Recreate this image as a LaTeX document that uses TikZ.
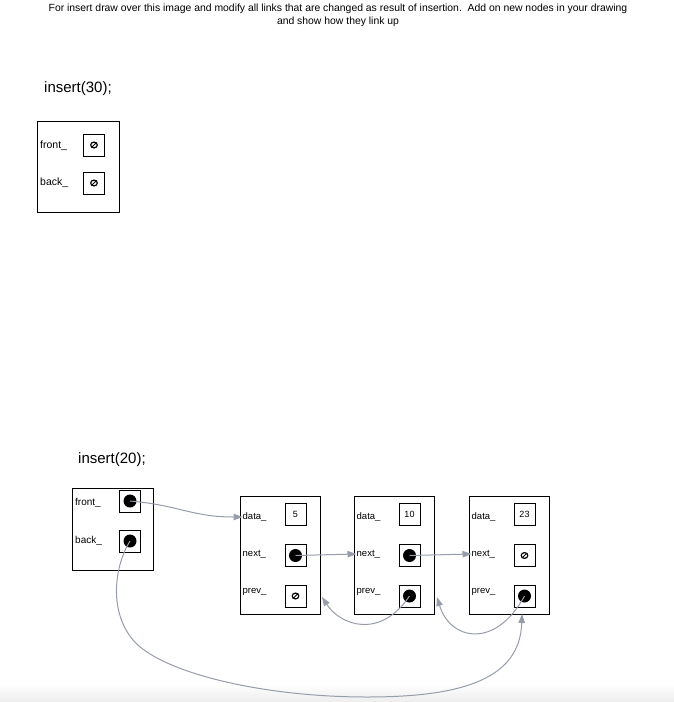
\documentclass[tikz,border=0pt]{standalone}
\usepackage{fontspec}
\setmainfont{Liberation Sans}
\usetikzlibrary{arrows.meta}
\definecolor{linkgray}{RGB}{150,156,170}
\tikzset{
	holder/.style={shape=rectangle, draw, line width=0.8pt, anchor=north west, inner sep=0pt},
	cell/.style={shape=rectangle, draw, line width=0.8pt, minimum width=21pt, minimum height=22pt, inner sep=0pt, font=\fontsize{9}{10}\selectfont},
	field/.style={anchor=west, inner sep=0pt, font=\fontsize{9.5}{11}\selectfont},
	link/.style={draw=linkgray, line width=1pt, -{Triangle[length=9pt, width=6.5pt]}},
	nullptr/.pic={\draw[line width=1.2pt] (0,0) ellipse (3.3pt and 2.9pt); \draw[line width=0.9pt] (-2.7pt,-2.5pt) -- (2.7pt,2.5pt);}
}
\begin{document}
\begin{tikzpicture}[x=1pt, y=-1pt]
	\useasboundingbox (0,0) rectangle (674,702);
	\shade[top color=white, bottom color=black!7] (0,684) rectangle (674,702);
	% Title and headings:
	\node[align=center, font=\fontsize{10.4}{13}\selectfont] (title) at (338,15.5){For insert draw over this image and modify all links that are changed as result of insertion.\ \ Add on new nodes in your drawing\\and show how they link up};
	\node[anchor=west, inner sep=0pt, font=\fontsize{15}{18}\selectfont] (ins30) at (44,89){insert(30);};
	\node[anchor=west, inner sep=0pt, font=\fontsize{15}{18}\selectfont] (ins20) at (78,460){insert(20);};
	% Empty list:
	\node[holder, minimum width=82pt, minimum height=91pt] (lstA) at (37,121){};
	\node[field, font=\fontsize{10.5}{12}\selectfont] (lstAfl) at (40,146){front\_};
	\node[field, font=\fontsize{10.5}{12}\selectfont] (lstAbl) at (40,183){back\_};
	\node[cell] (lstAfront) at (94,145){};
	\node[cell] (lstAback) at (94,183){};
	\pic at (lstAfront) {nullptr};
	\pic at (lstAback) {nullptr};
	% List with three nodes:
	\node[holder, minimum width=81pt, minimum height=82pt] (lstB) at (72,488){};
	\node[field, font=\fontsize{10}{12}\selectfont] (lstBfl) at (75,503){front\_};
	\node[field, font=\fontsize{10}{12}\selectfont] (lstBbl) at (75,541){back\_};
	\node[cell] (lstBfront) at (130,501){};
	\node[cell] (lstBback) at (130,541){};
	\fill (lstBfront) circle (6.5pt);
	\fill (lstBback) circle (6.5pt);
	\foreach \val/\x in {5/240, 10/354, 23/469}{
		\node[holder, minimum width=80pt, minimum height=118pt] (n\val) at (\x,496){};
		\node[field] (n\val dl) at (\x+2.5,517){data\_};
		\node[field] (n\val nl) at (\x+2.5,554){next\_};
		\node[field] (n\val pl) at (\x+2.5,592){prev\_};
		\node[cell] (n\val data) at (\x+55.5,514){\val};
		\node[cell] (n\val next) at (\x+55.5,555.5){};
		\node[cell] (n\val prev) at (\x+55.5,596){};
	}
	\fill (n5next) circle (6.5pt);
	\fill (n10next) circle (6.5pt);
	\fill (n10prev) circle (6.5pt);
	\fill (n23prev) circle (6.5pt);
	\pic at (n5prev) {nullptr};
	\pic at (n23next) {nullptr};
	% Links:
	\coordinate (n5back) at (322,597);
	\coordinate (n10back) at (437,597);
	\coordinate (n23below) at (522,614);
	\draw[link] (lstBfront.center) .. controls (178,505) and (192,517) .. (n5dl.west);
	\draw[link] (n5next.center) -- (n10nl.west);
	\draw[link] (n10next.center) -- (n23nl.west);
	\draw[link] (n10prev.center) .. controls (380,640) and (340,625) .. (n5back);
	\draw[link] (n23prev.center) .. controls (495,650) and (450,640) .. (n10back);
	\draw[link] (lstBback.center) .. controls (115,565) and (108,610) .. (133,640) .. controls (160,672) and (260,697) .. (367,697) .. controls (460,697) and (520,680) .. (n23below);
\end{tikzpicture}
\end{document}
